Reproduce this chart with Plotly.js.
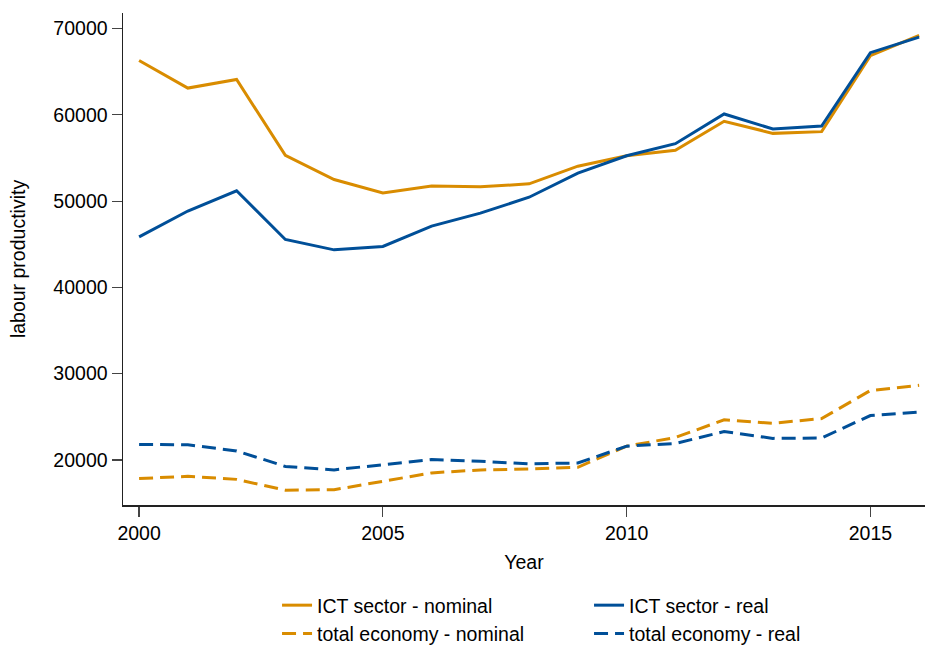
<!DOCTYPE html>
<html>
<head>
<meta charset="utf-8">
<script src="https://cdn.plot.ly/plotly-3.0.1.min.js"></script>
<style>html,body{margin:0;padding:0;background:#fff;}#chart{width:925px;height:654px;}</style>
</head>
<body>
<div id="chart"></div>
<script>
var years = [2000,2001,2002,2003,2004,2005,2006,2007,2008,2009,2010,2011,2012,2013,2014,2015,2016];
var ictNominal = [66300,63100,64100,55300,52500,50950,51750,51650,52000,54050,55250,55900,59250,57850,58050,66850,69200];
var ictReal = [45850,48850,51200,45550,44350,44750,47100,48600,50450,53250,55250,56650,60100,58350,58700,67200,69000];
var totNominal = [17850,18100,17750,16500,16550,17550,18500,18850,18950,19150,21600,22600,24650,24250,24800,28050,28650];
var totReal = [21800,21750,21050,19250,18850,19450,20050,19850,19550,19650,21600,21900,23300,22500,22550,25150,25550];
var names = ['ICT sector - nominal','ICT sector - real','total economy - nominal','total economy - real'];
var yTicks = [20000,30000,40000,50000,60000,70000];
var xTicks = [2000,2005,2010,2015];

var orange = '#d98c00', blue = '#004f98';
var font = {family:'"Liberation Sans", Arial, sans-serif', size:19.5, color:'#000'};

var traces = [
  {x:years, y:ictNominal, name:names[0], mode:'lines', line:{color:orange, width:3}},
  {x:years, y:ictReal, name:names[1], mode:'lines', line:{color:blue, width:3}},
  {x:years, y:totNominal, name:names[2], mode:'lines', line:{color:orange, width:3, dash:'14px,7px'}},
  {x:years, y:totReal, name:names[3], mode:'lines', line:{color:blue, width:3, dash:'14px,7px'}}
];

var layout = {
  width:925, height:654,
  margin:{l:123, r:0, t:13, b:149},
  paper_bgcolor:'#fff', plot_bgcolor:'#fff',
  font:font,
  showlegend:true,
  xaxis:{
    range:[1999.67, 2016.12], tickvals:xTicks, ticktext:xTicks.map(String),
    showgrid:false, zeroline:false, showline:true, linecolor:'#222', linewidth:1.5,
    ticks:'outside', ticklen:10, tickcolor:'#444', tickwidth:1.2,
    tickfont:font, title:{text:'Year', font:font, standoff:12}
  },
  yaxis:{
    range:[14780, 71800], tickvals:yTicks, ticktext:yTicks.map(String),
    showgrid:false, zeroline:false, showline:true, linecolor:'#222', linewidth:1.5,
    ticks:'outside', ticklen:10, tickcolor:'#444', tickwidth:1.2,
    tickfont:font, title:{text:'labour productivity', font:font, standoff:22}
  },
  legend:{
    orientation:'h', xref:'container', yref:'container',
    x:0.2995, xanchor:'left', y:0.104, yanchor:'top',
    entrywidth:267, entrywidthmode:'pixels', font:font,
    bgcolor:'rgba(0,0,0,0)', traceorder:'normal'
  }
};

Plotly.newPlot('chart', traces, layout, {displayModeBar:false, staticPlot:true});
</script>
</body>
</html>
